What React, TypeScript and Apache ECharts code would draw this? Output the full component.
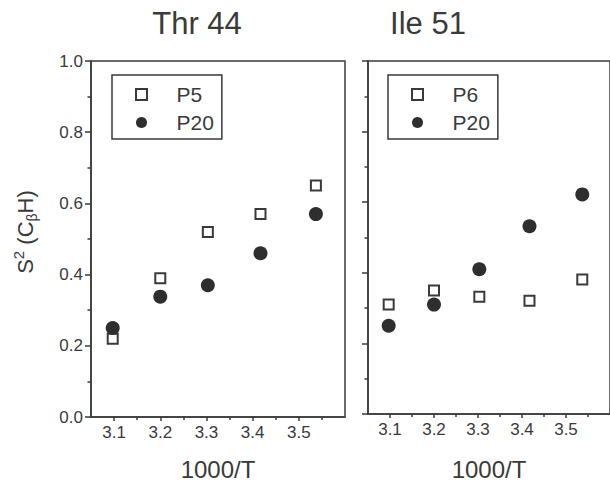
import React, { useEffect, useRef } from "react";
import * as echarts from "echarts";

// ---- data ----
const xValues = [3.097, 3.2, 3.303, 3.417, 3.537]; // 1000/T
const thrP5 = [0.22, 0.39, 0.52, 0.57, 0.65];
const thrP20 = [0.25, 0.338, 0.37, 0.46, 0.57];
const ileP6 = [0.31, 0.35, 0.332, 0.321, 0.381];
const ileP20 = [0.25, 0.31, 0.41, 0.532, 0.622];

const xMajorTicks = [3.1, 3.2, 3.3, 3.4, 3.5];
const xMinorTicks = [3.15, 3.25, 3.35, 3.45, 3.55];
const panelTitles = ["Thr 44", "Ile 51"];
const xAxisName = "1000/T";

const FONT = "'Liberation Sans', Arial, sans-serif";
const LINE = "#3a3a3a";
const TEXT = "#3a3a3a";
const DOT = "#2e2e2e";
const SQUARE_ICON = "path://M0,0H10V10H0Z";

const pairs = (ys: number[]) => xValues.map((x, i) => [x, ys[i]]);

export default function App() {
  const ref = useRef<HTMLDivElement>(null);
  useEffect(() => {
    if (!ref.current) return;
    const chart = echarts.init(ref.current, undefined, { renderer: "svg" });

    const gridBase = {
      top: 61,
      height: 362,
      show: true,
      borderColor: LINE,
      borderWidth: 1.5,
      backgroundColor: "transparent",
    };

    const mainX = (gi: number, gap: number) => ({
      gridIndex: gi,
      type: "value",
      position: "bottom",
      min: 3.05,
      max: 3.6,
      axisLine: { show: true, onZero: false, lineStyle: { color: LINE, width: 1.5 } },
      axisTick: { show: true, customValues: xMajorTicks, length: 4, lineStyle: { color: LINE, width: 1.5 } },
      axisLabel: {
        customValues: xMajorTicks,
        formatter: (v: number) => v.toFixed(1),
        fontSize: 17,
        fontFamily: FONT,
        color: TEXT,
        margin: 7,
      },
      splitLine: { show: false },
      name: xAxisName,
      nameLocation: "middle",
      nameGap: gap,
      nameTextStyle: { fontSize: 24, fontFamily: FONT, color: TEXT },
    });
    const minorX = (gi: number) => ({
      gridIndex: gi,
      type: "value",
      position: "bottom",
      min: 3.05,
      max: 3.6,
      axisLine: { show: false },
      axisTick: { show: true, customValues: xMinorTicks, length: 3, lineStyle: { color: LINE, width: 1.5 } },
      axisLabel: { show: false },
      splitLine: { show: false },
    });
    const yAx = (gi: number, labels: boolean) => ({
      gridIndex: gi,
      type: "value",
      min: 0,
      max: 1,
      interval: 0.2,
      axisLine: { show: true, onZero: false, lineStyle: { color: LINE, width: 1.5 } },
      axisTick: { show: true, length: 6, lineStyle: { color: LINE, width: 1.5 } },
      minorTick: { show: true, splitNumber: 2, length: 3.5, lineStyle: { color: LINE, width: 1.5 } },
      axisLabel: {
        show: labels,
        formatter: (v: number) => v.toFixed(1),
        fontSize: 17,
        fontFamily: FONT,
        color: TEXT,
        margin: 8,
      },
      splitLine: { show: false },
      minorSplitLine: { show: false },
    });

    const openSquare = {
      type: "scatter",
      symbol: "rect",
      symbolSize: 10,
      itemStyle: { color: "#ffffff", borderColor: LINE, borderWidth: 2, opacity: 1 },
    };
    const filledCircle = {
      type: "scatter",
      symbol: "circle",
      symbolSize: 14,
      itemStyle: { color: DOT, opacity: 1 },
    };

    const legendBase = {
      orient: "vertical",
      top: 75,
      itemWidth: 60,
      itemHeight: 11,
      itemGap: 7,
      padding: [9, 8, 6, 23],
      borderColor: LINE,
      borderWidth: 1.5,
      selectedMode: false,
      symbolKeepAspect: true,
      textStyle: { fontSize: 21, fontFamily: FONT, color: TEXT },
    };

    chart.setOption({
      animation: false,
      backgroundColor: "#ffffff",
      grid: [
        { ...gridBase, left: 91, width: 254 },
        { ...gridBase, left: 368, width: 250 },
      ],
      xAxis: [mainX(0, 40), minorX(0), mainX(1, 43), minorX(1)],
      yAxis: [yAx(0, true), yAx(1, false)],
      legend: [
        {
          ...legendBase,
          left: 112,
          data: [
            { name: "P5", icon: SQUARE_ICON, itemStyle: { color: "#ffffff", borderColor: LINE, borderWidth: 2 } },
            { name: "P20", icon: "circle", itemStyle: { color: DOT, borderWidth: 0 } },
          ],
        },
        {
          ...legendBase,
          left: 388,
          data: [
            { name: "P6", icon: SQUARE_ICON, itemStyle: { color: "#ffffff", borderColor: LINE, borderWidth: 2 } },
            { name: "P20", icon: "circle", itemStyle: { color: DOT, borderWidth: 0 } },
          ],
        },
      ],
      series: [
        { ...openSquare, name: "P5", xAxisIndex: 0, yAxisIndex: 0, data: pairs(thrP5) },
        { ...filledCircle, name: "P20", xAxisIndex: 0, yAxisIndex: 0, data: pairs(thrP20) },
        { ...openSquare, name: "P6", xAxisIndex: 2, yAxisIndex: 1, data: pairs(ileP6) },
        { ...filledCircle, name: "P20", xAxisIndex: 2, yAxisIndex: 1, data: pairs(ileP20) },
      ],
      graphic: [
        {
          type: "text",
          x: 197,
          y: 23,
          style: { text: panelTitles[0], fontSize: 31, fontFamily: FONT, fill: TEXT, align: "center", verticalAlign: "middle" },
        },
        {
          type: "text",
          x: 428,
          y: 23,
          style: { text: panelTitles[1], fontSize: 31, fontFamily: FONT, fill: TEXT, align: "center", verticalAlign: "middle" },
        },
        {
          type: "text",
          x: 25,
          y: 232,
          rotation: Math.PI / 2,
          style: {
            text: "{m|S}{sup|2}{m| (C}{sub|β}{m|H)}",
            fill: TEXT,
            align: "center",
            verticalAlign: "middle",
            fontFamily: FONT,
            rich: {
              m: { fontSize: 22, fontFamily: FONT, fill: TEXT, lineHeight: 28 },
              sup: { fontSize: 15, fontFamily: FONT, fill: TEXT, verticalAlign: "top", lineHeight: 28 },
              sub: { fontSize: 14, fontFamily: FONT, fill: TEXT, verticalAlign: "bottom", lineHeight: 28 },
            },
          },
        },
      ],
    });
    return () => chart.dispose();
  }, []);
  return (
    <div
      ref={ref}
      style={{ position: "absolute", left: 0, top: 0, width: 610, height: 486, background: "#fff" }}
    />
  );
}
